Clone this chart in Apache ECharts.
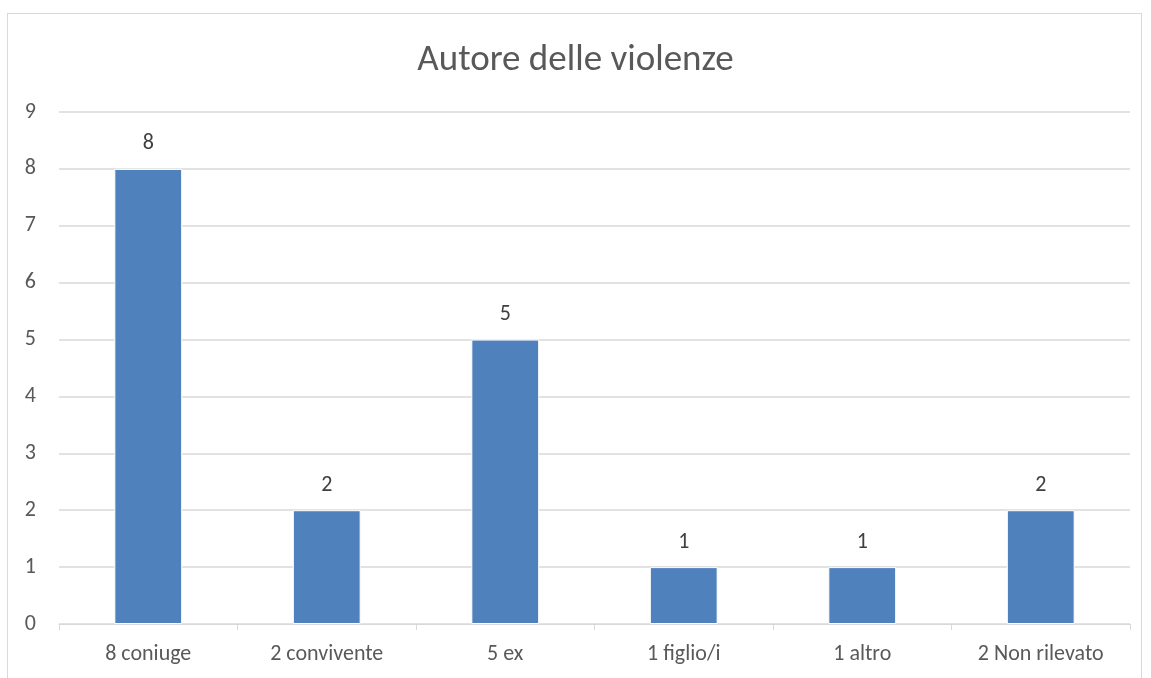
<!DOCTYPE html>
<html>
<head>
<meta charset="utf-8">
<script src="https://cdn.jsdelivr.net/npm/echarts@6/dist/echarts.min.js"></script>
<style>
  html, body { margin: 0; padding: 0; background: #fff; }
  #frame {
    position: absolute; left: 7px; top: 13px; width: 1135px; height: 700px;
    border: 1px solid #D9D9D9; box-sizing: border-box;
  }
  #chart { position: absolute; left: 0; top: 0; width: 1151px; height: 678px; }
</style>
</head>
<body>
<div id="frame"></div>
<div id="chart"></div>
<script>
let categories = ['8 coniuge', '2 convivente', '5 ex', '1 figlio/i', '1 altro', '2 Non rilevato']
let counts = [8, 2, 5, 1, 1, 2]
let yTicks = [0, 1, 2, 3, 4, 5, 6, 7, 8, 9]

let font = 'Carlito, "Open Sans", "Noto Sans", sans-serif'
let options = {
  animation: false,
  title: {
    text: 'Autore delle violenze',
    left: 'center',
    top: 37,
    textStyle: {
      color: '#595959',
      fontSize: 37,
      fontWeight: 'normal',
      fontFamily: font
    }
  },
  grid: {
    top: 112,
    bottom: 54,
    left: 59,
    right: 21
  },
  xAxis: {
    type: 'category',
    data: categories,
    axisLine: {
      lineStyle: { color: '#D9D9D9' }
    },
    axisTick: {
      show: true,
      length: 6,
      lineStyle: { color: '#D9D9D9' }
    },
    axisLabel: {
      color: '#595959',
      fontSize: 22,
      fontFamily: font,
      margin: 19
    }
  },
  yAxis: {
    type: 'value',
    min: yTicks[0],
    max: yTicks[yTicks.length - 1],
    interval: 1,
    axisLine: { show: false },
    axisTick: { show: false },
    axisLabel: {
      color: '#595959',
      fontSize: 22,
      fontFamily: font,
      margin: 23
    },
    splitLine: {
      lineStyle: { color: '#D9D9D9', width: 1.5 }
    }
  },
  series: [
    {
      type: 'bar',
      data: counts,
      barWidth: '38%',
      itemStyle: {
        color: '#4F81BD',
        borderColor: '#fff',
        borderWidth: 1
      },
      label: {
        show: true,
        position: 'top',
        distance: 14,
        color: '#404040',
        fontSize: 22,
        fontFamily: font
      }
    }
  ]
}

let myChart = echarts.init(document.getElementById('chart'))
myChart.setOption(options)
</script>
</body>
</html>
